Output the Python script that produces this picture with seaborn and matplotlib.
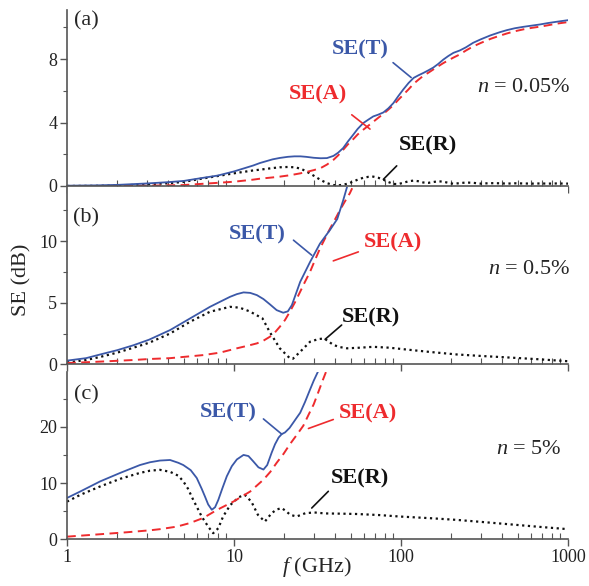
import matplotlib
matplotlib.use("Agg")
import matplotlib.pyplot as plt
from matplotlib.ticker import FuncFormatter, MultipleLocator, AutoMinorLocator
import seaborn as sns

# ---- panel (a): n = 0.05% ----
f_a = [1, 1.5, 2, 3, 4, 5, 6.3, 8, 10, 13, 14.3, 17, 18.8, 21, 23, 25, 27, 30,
       33, 36, 39.4, 42, 45, 48, 51.7, 55, 59.4, 64, 68.2, 73, 78.4, 84, 90, 96,
       103, 111, 119, 127, 136, 146, 156, 167, 179, 192, 206, 225, 245, 270,
       300, 343, 390, 430, 480, 540, 610, 680, 760, 855, 1000]
se_t_a = [0.02, 0.04, 0.07, 0.16, 0.24, 0.32, 0.49, 0.66, 0.92, 1.29, 1.45, 1.68,
          1.77, 1.84, 1.87, 1.87, 1.84, 1.78, 1.75, 1.76, 1.9, 2.1, 2.39, 2.8,
          3.23, 3.6, 3.97, 4.2, 4.39, 4.5, 4.64, 4.9, 5.23, 5.65, 6.08, 6.5,
          6.82, 6.98, 7.13, 7.3, 7.47, 7.7, 7.97, 8.2, 8.4, 8.55, 8.75, 9.03,
          9.25, 9.5, 9.7, 9.83, 9.95, 10.04, 10.12, 10.19, 10.28, 10.36, 10.46]
se_a_a = [0.0, 0.0, 0.01, 0.02, 0.04, 0.06, 0.13, 0.2, 0.27, 0.4, 0.46, 0.54,
          0.59, 0.66, 0.73, 0.8, 0.88, 1.0, 1.13, 1.35, 1.65, 1.93, 2.28, 2.62,
          2.95, 3.25, 3.55, 3.82, 4.05, 4.3, 4.55, 4.82, 5.1, 5.42, 5.75, 6.1,
          6.45, 6.7, 6.95, 7.15, 7.35, 7.55, 7.75, 7.93, 8.1, 8.3, 8.55, 8.8,
          9.02, 9.28, 9.48, 9.62, 9.76, 9.88, 9.98, 10.05, 10.14, 10.24, 10.34]
se_r_a = [0.0, 0.01, 0.03, 0.1, 0.17, 0.26, 0.45, 0.63, 0.8, 0.98, 1.03, 1.13,
          1.18, 1.2, 1.18, 1.1, 0.93, 0.65, 0.38, 0.18, 0.06, 0.04, 0.08, 0.15,
          0.28, 0.4, 0.52, 0.58, 0.59, 0.52, 0.4, 0.25, 0.13, 0.12, 0.2, 0.3,
          0.34, 0.3, 0.22, 0.2, 0.25, 0.3, 0.27, 0.2, 0.14, 0.18, 0.22, 0.2,
          0.15, 0.18, 0.17, 0.15, 0.17, 0.16, 0.15, 0.16, 0.15, 0.16, 0.15]

# ---- panel (b): n = 0.5% ----
f_t_b = [1, 1.3, 1.58, 2, 2.5, 3.1, 4.14, 5.46, 7.18, 8.25, 9.46, 10.4, 11.4,
         12.5, 13.7, 15, 16.4, 18, 19.7, 21, 22.2, 24.9, 28.5, 32.7, 37.5,
         41.5, 45, 47.5]
se_t_b = [0.3, 0.5, 0.8, 1.15, 1.55, 2.0, 2.78, 3.73, 4.67, 5.08, 5.48, 5.7,
          5.84, 5.8, 5.62, 5.3, 4.87, 4.4, 4.19, 4.3, 4.81, 6.7, 8.3, 9.8,
          10.9, 11.8, 13.3, 14.4]
f_a_b = [1, 1.58, 2.5, 3.1, 4.14, 5.46, 6.55, 8.25, 10.4, 12, 13.7, 15, 16.4,
         17.6, 18.8, 20.2, 21.6, 23.2, 24.9, 26.6, 28.5, 30.5, 32.7, 35, 37.5,
         40, 43, 46, 49.4, 51]
se_a_b = [0.1, 0.22, 0.35, 0.43, 0.5, 0.65, 0.75, 0.95, 1.3, 1.5, 1.7, 1.92,
          2.24, 2.6, 3.05, 3.6, 4.27, 5.05, 5.9, 6.7, 7.5, 8.45, 9.4, 10.2,
          11.0, 11.7, 12.5, 13.2, 13.9, 14.3]
f_r_b = [1, 1.3, 1.58, 2, 2.5, 3.1, 4.14, 5.46, 7.18, 9.46, 10.8, 12.4, 14.8,
         16.4, 18.8, 21.6, 22.5, 24.9, 28.5, 32, 34.7, 39.4, 43, 47.5, 56.9,
         68, 85, 108, 150, 216, 300, 433, 650, 1000]
se_r_b = [0.15, 0.35, 0.6, 0.95, 1.35, 1.75, 2.5, 3.46, 4.27, 4.67, 4.6, 4.3,
          3.73, 2.6, 1.3, 0.49, 0.45, 1.02, 1.83, 2.05, 2.1, 1.57, 1.4, 1.3,
          1.35, 1.42, 1.35, 1.2, 1.0, 0.8, 0.68, 0.56, 0.42, 0.25]

# ---- panel (c): n = 5% ----
f_t_c = [1, 1.2, 1.58, 2.08, 2.73, 3.14, 3.6, 4.14, 4.64, 4.97, 5.5, 5.98, 6.4,
         6.7, 7.0, 7.36, 7.7, 8.05, 8.5, 9.05, 9.7, 10.4, 11.4, 12.2, 13.0,
         14.0, 15.0, 15.8, 16.8, 17.6, 18.5, 19.3, 20.2, 21.5, 22.7, 23.7,
         24.9, 26.6, 28.5, 30, 31.8]
se_t_c = [7.35, 8.5, 10.3, 11.8, 13.2, 13.7, 14.0, 14.1, 13.6, 13.2, 12.3, 10.9,
          9.0, 7.6, 6.2, 5.25, 5.7, 7.0, 9.0, 11.2, 13.0, 14.2, 15.0, 14.8,
          13.9, 12.8, 12.4, 13.2, 15.4, 16.9, 18.1, 18.7, 19.0, 19.8, 20.8,
          21.6, 22.5, 24.4, 26.6, 28.2, 29.8]
f_a_c = [1, 1.58, 2.28, 3.14, 3.6, 4.54, 5.46, 6.55, 7.88, 9.9, 12.5, 15, 16.5,
         18, 19.8, 21.6, 23.8, 26, 28, 30, 32, 34, 35.8]
se_a_c = [0.47, 0.9, 1.25, 1.6, 1.8, 2.25, 2.9, 3.8, 5.2, 6.7, 8.5, 10.6, 12.0,
          13.6, 15.2, 16.9, 18.6, 20.2, 22.2, 24.0, 26.2, 28.3, 30.0]
f_r_c = [1, 1.2, 1.58, 2.08, 2.73, 3.14, 3.6, 4.14, 4.64, 4.97, 5.3, 5.7, 6.05,
         6.4, 7.0, 7.5, 8.05, 8.6, 9.5, 10.7, 11.6, 12.7, 13.9, 15.3, 16.8, 18,
         19.3, 20.5, 21.7, 23.7, 26.8, 30.3, 35, 45, 54, 75, 98, 150, 216, 300,
         433, 650, 1000]
se_r_c = [6.7, 7.9, 9.4, 10.75, 11.8, 12.2, 12.35, 12.0, 11.3, 10.3, 9.0, 7.0,
          5.5, 4.05, 2.26, 1.08, 1.97, 4.05, 6.1, 7.5, 7.9, 6.7, 4.35, 3.15,
          4.65, 5.3, 5.55, 5.0, 4.35, 4.05, 4.65, 4.77, 4.6, 4.55, 4.5, 4.3,
          4.05, 3.75, 3.45, 3.1, 2.7, 2.25, 1.8]

panel_tags = ["(a)", "(b)", "(c)"]
conc_labels = ["0.05%", "0.5%", "5%"]
y_limits = [11.1, 14.4, 29.8]
y_major = [4, 5, 10]

BLUE = "#3b58a8"
RED = "#ee2b2e"
DARK = "#111111"
GREY = "#555555"

sns.set_style("ticks")
plt.rcParams["font.family"] = ["Liberation Serif", "DejaVu Serif"]
plt.rcParams["mathtext.fontset"] = "custom"
plt.rcParams["mathtext.rm"] = "Liberation Serif"
plt.rcParams["mathtext.it"] = "Liberation Serif:italic"

fig = plt.figure(figsize=(5.89, 5.86), dpi=100)
ax_a = fig.add_axes([0.1138, 0.6826, 0.8506, 0.3003])
ax_b = fig.add_axes([0.1138, 0.3783, 0.8506, 0.3026])
ax_c = fig.add_axes([0.1138, 0.0797, 0.8506, 0.2860])
axes = [ax_a, ax_b, ax_c]

curves = [
    ((f_a, se_t_a), (f_a, se_a_a), (f_a, se_r_a)),
    ((f_t_b, se_t_b), (f_a_b, se_a_b), (f_r_b, se_r_b)),
    ((f_t_c, se_t_c), (f_a_c, se_a_c), (f_r_c, se_r_c)),
]

for ax, (t, a, r) in zip(axes, curves):
    # SE(R) dotted, SE(A) dashed, SE(T) solid
    sns.lineplot(x=r[0], y=r[1], ax=ax, color=DARK, lw=1.6,
                 linestyle=(0, (1, 1.6)), dash_capstyle="butt")
    sns.lineplot(x=a[0], y=a[1], ax=ax, color=RED, lw=1.4, linestyle=(0, (4.5, 2.8)))
    sns.lineplot(x=t[0], y=t[1], ax=ax, color=BLUE, lw=1.3)

for i, ax in enumerate(axes):
    ax.set_xscale("log")
    ax.set_xlim(1, 1000)
    ax.set_ylim(0, y_limits[i])
    ax.yaxis.set_major_locator(MultipleLocator(y_major[i]))
    ax.yaxis.set_minor_locator(AutoMinorLocator(2))
    ax.xaxis.set_major_formatter(FuncFormatter(lambda v, _: f"{v:g}"))
    sns.despine(ax=ax)
    for side in ["left", "bottom"]:
        ax.spines[side].set_color(GREY)
        ax.spines[side].set_linewidth(1.2)
    ax.tick_params(axis="both", which="major", direction="out", length=5,
                   width=1.0, color=GREY, labelsize=13, labelcolor="#222222", pad=2)
    ax.tick_params(axis="x", which="minor", direction="in", length=4, width=0.8, color=GREY)
    ax.tick_params(axis="y", which="minor", direction="out", length=3, width=0.8, color=GREY)
    if i < 2:
        ax.tick_params(axis="x", which="both", labelbottom=False)
    ax.set_xlabel("")
    ax.set_ylabel("")
    ax.text(0.038, 0.94 if i == 0 else (0.825 if i == 1 else 0.861), panel_tags[i],
            transform=ax.transAxes, fontsize=16, ha="center", va="center")
    ax.text(1.005 if i < 2 else 0.987, 0.56 if i == 0 else 0.533,
            "$n$ = " + conc_labels[i], transform=ax.transAxes, fontsize=16,
            ha="right", va="center")


def tag(ax, text, color, txt, p0, p1):
    ax.text(txt[0], txt[1], text, color=color, fontsize=16, fontweight="bold",
            ha="center", va="center")
    ax.annotate("", xy=p1, xytext=p0,
                arrowprops=dict(arrowstyle="-", color=color, lw=1.2,
                                shrinkA=0, shrinkB=0))


tag(ax_a, "SE(T)", BLUE, (56.8, 8.6), (89.6, 7.78), (115, 6.84))
tag(ax_a, "SE(A)", RED, (31.6, 5.76), (50.7, 4.49), (65.2, 3.59))
tag(ax_a, "SE(R)", DARK, (144, 2.53), (94.2, 1.27), (78.4, 0.42))

tag(ax_b, "SE(T)", BLUE, (13.8, 10.57), (22.7, 10.08), (29.2, 8.86))
tag(ax_b, "SE(A)", RED, (89.9, 9.88), (55.5, 9.13), (39.3, 8.4))
tag(ax_b, "SE(R)", DARK, (65.9, 3.8), (44.1, 3.19), (35.1, 2.03))

tag(ax_c, "SE(T)", BLUE, (9.25, 22.6), (15.0, 21.4), (19.3, 18.7))
tag(ax_c, "SE(A)", RED, (63.7, 22.4), (39.3, 21.3), (27.9, 19.7))
tag(ax_c, "SE(R)", DARK, (56.8, 10.8), (36.7, 8.53), (29.2, 5.56))

fig.text(0.538, 0.032, "$f$ (GHz)", fontsize=16, ha="center", va="center")
fig.text(0.037, 0.522, "SE (dB)", fontsize=16, rotation=90, ha="center", va="center")

fig.savefig("out.png", dpi=100)
